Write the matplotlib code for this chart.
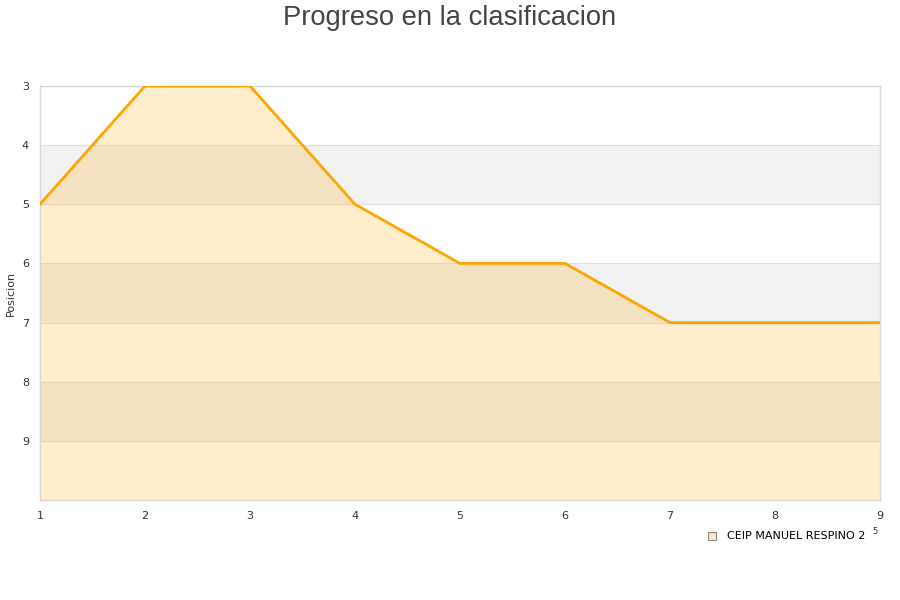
import matplotlib
matplotlib.use("Agg")
import matplotlib.pyplot as plt

jornadas = [1, 2, 3, 4, 5, 6, 7, 8, 9]
posicion = [5, 3, 3, 5, 6, 6, 7, 7, 7]
equipo = 'CEIP MANUEL RESPINO 2'
y_min, y_max = 3, 10

fig = plt.figure(figsize=(9, 6), dpi=100)
ax = fig.add_axes([40 / 900, 100 / 600, 840 / 900, 414 / 600])

# bandas alternas
for y in range(4, y_max, 2):
    ax.axhspan(y, y + 1, color='#f2f2f2', zorder=0, lw=0)
for y in range(y_min, y_max):
    ax.axhline(y, color='#e0e0e0', lw=0.8, zorder=0.5)

ax.fill_between(jornadas, posicion, y_max, color='orange', alpha=0.2, lw=0, zorder=1)
ax.plot(jornadas, posicion, color='orange', lw=2, zorder=3)

ax.set_xlim(1, 9)
ax.set_ylim(y_max, y_min)
ax.set_xticks(jornadas)
ax.set_yticks(range(y_min, y_max))
ax.tick_params(length=0, labelsize=8, colors='#333333', pad=8)
for s in ax.spines.values():
    s.set_color('#d8d8d8')
    s.set_linewidth(1)
ax.set_ylabel('Posicion', fontsize=8, color='#333333', labelpad=4)

fig.suptitle('Progreso en la clasificacion', fontsize=19.7, color='#444444',
             family='Liberation Sans', y=0.992)

ax.scatter([], [], marker='s', s=40, facecolor='#ffe6bf', edgecolor='#888888', lw=0.8, label=equipo)
ax.legend(loc='upper right', bbox_to_anchor=(0.988, -0.065), frameon=False, fontsize=8,
          handletextpad=0.4, borderaxespad=0)
fig.text(875 / 900, 1 - 532 / 600, '5', fontsize=6, color='#333333', ha='center', va='center')

fig.savefig('out.png', dpi=100)
